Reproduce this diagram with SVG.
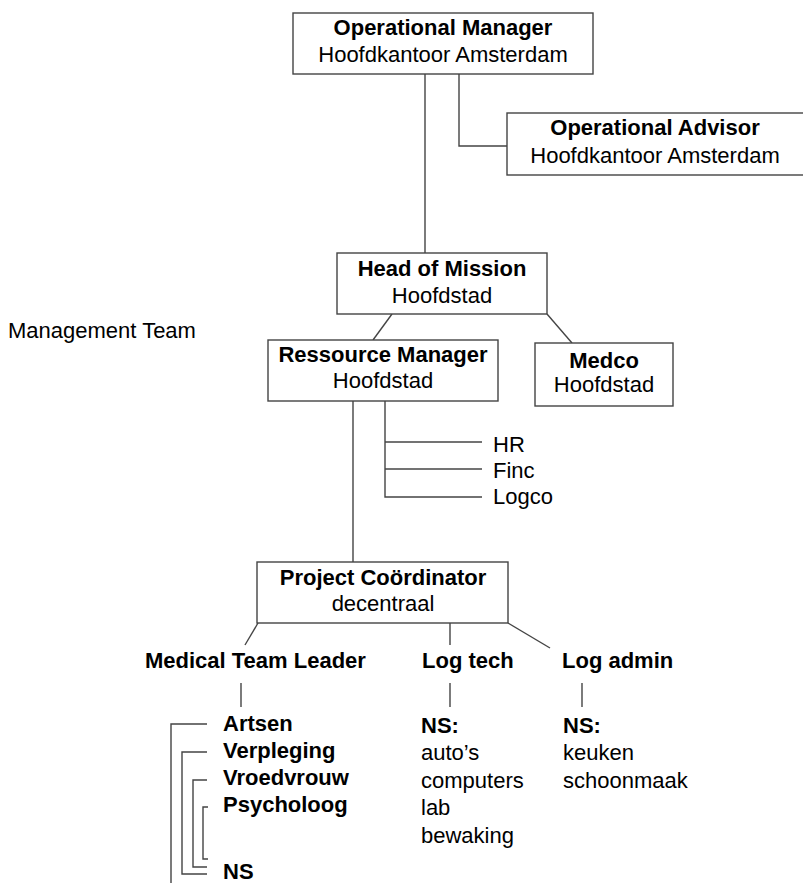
<svg xmlns="http://www.w3.org/2000/svg" width="803" height="883" viewBox="0 0 803 883">
<style>
text{font-family:"Liberation Sans",Arial,sans-serif;font-size:22px;fill:#000}
.b{font-weight:bold}
.c{text-anchor:middle}
rect{fill:#fff;stroke:#444;stroke-width:1.4}
.ln{fill:none;stroke:#444;stroke-width:1.4}
</style>
<rect x="0" y="0" width="803" height="883" style="fill:#fff;stroke:none"/>
<g id="connectors" class="ln">
<line x1="425" y1="74" x2="425" y2="253"/>
<polyline points="459,74 459,146 507,146"/>
<line x1="392" y1="314" x2="373" y2="340"/>
<line x1="547" y1="314" x2="572" y2="343"/>
<line x1="353" y1="401" x2="353" y2="562"/>
<polyline points="385,401 385,497 482,497"/>
<line x1="385" y1="442" x2="482" y2="442"/>
<line x1="385" y1="469" x2="482" y2="469"/>
<line x1="258" y1="623" x2="245" y2="645"/>
<line x1="450" y1="623" x2="450" y2="645"/>
<line x1="508" y1="623" x2="550" y2="648"/>
<line x1="241" y1="683" x2="241" y2="707"/>
<line x1="450" y1="683" x2="450" y2="707"/>
<line x1="582" y1="683" x2="582" y2="707"/>
<polyline points="207,724 171,724 171,884"/>
<polyline points="207,752 182,752 182,874 207,874"/>
<polyline points="207,780 193,780 193,867 207,867"/>
<polyline points="208,807 203,807 203,859 208,859"/>
</g>
<g id="operational-manager">
<rect x="293" y="13" width="300" height="61"/>
<text class="b c" x="443" y="35">Operational Manager</text>
<text class="c" x="443" y="62">Hoofdkantoor Amsterdam</text>
</g>
<g id="operational-advisor">
<rect x="507" y="113" width="300" height="62"/>
<text class="b c" x="655" y="135">Operational Advisor</text>
<text class="c" x="655" y="163">Hoofdkantoor Amsterdam</text>
</g>
<g id="head-of-mission">
<rect x="337" y="253" width="210" height="61"/>
<text class="b c" x="442" y="276">Head of Mission</text>
<text class="c" x="442" y="303">Hoofdstad</text>
</g>
<g id="management-team">
<text x="8" y="338">Management Team</text>
</g>
<g id="ressource-manager">
<rect x="268" y="340" width="230" height="61"/>
<text class="b c" x="383" y="362">Ressource Manager</text>
<text class="c" x="383" y="388">Hoofdstad</text>
</g>
<g id="medco">
<rect x="535" y="343" width="138" height="63"/>
<text class="b c" x="604" y="368">Medco</text>
<text class="c" x="604" y="392">Hoofdstad</text>
</g>
<g id="support">
<text x="493" y="452">HR</text>
<text x="493" y="478">Finc</text>
<text x="493" y="504">Logco</text>
</g>
<g id="project-coordinator">
<rect x="257" y="562" width="251" height="61"/>
<text class="b c" x="383" y="585">Project Coördinator</text>
<text class="c" x="383" y="611">decentraal</text>
</g>
<g id="medical-team-leader">
<text class="b" x="145" y="668">Medical Team Leader</text>
</g>
<g id="log-tech">
<text class="b" x="422" y="668">Log tech</text>
</g>
<g id="log-admin">
<text class="b" x="562" y="668">Log admin</text>
</g>
<g id="medical-staff">
<text class="b" x="223" y="731">Artsen</text>
<text class="b" x="223" y="758">Verpleging</text>
<text class="b" x="223" y="785">Vroedvrouw</text>
<text class="b" x="223" y="812">Psycholoog</text>
<text class="b" x="223" y="879">NS</text>
</g>
<g id="log-tech-staff">
<text class="b" x="421" y="733">NS:</text>
<text x="421" y="760">auto’s</text>
<text x="421" y="788">computers</text>
<text x="421" y="815">lab</text>
<text x="421" y="843">bewaking</text>
</g>
<g id="log-admin-staff">
<text class="b" x="563" y="733">NS:</text>
<text x="563" y="760">keuken</text>
<text x="563" y="788">schoonmaak</text>
</g>
</svg>
